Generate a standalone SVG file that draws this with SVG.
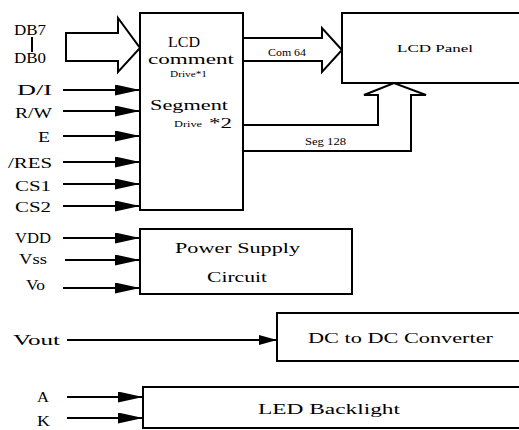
<svg xmlns="http://www.w3.org/2000/svg" width="519" height="430" viewBox="0 0 519 430">
<style>
.box{fill:#fff;stroke:#000;stroke-width:2}
.ln{fill:none;stroke:#000;stroke-width:2}
.hollow{fill:#fff;stroke:#000;stroke-width:2;stroke-linejoin:miter}
text{font-family:"Liberation Serif","Times New Roman",serif;fill:#000}
.l{font-size:14px}
.s{font-size:9px}
.m{font-size:10px}
</style>
<defs>
<marker id="ah" markerUnits="userSpaceOnUse" markerWidth="25" markerHeight="11" viewBox="0 0 25 11" refX="25" refY="5.5" orient="auto">
<path d="M0,0 L25,5.5 L0,11 Z" fill="#000"/>
</marker>
<marker id="ah2" markerUnits="userSpaceOnUse" markerWidth="18" markerHeight="10" viewBox="0 0 18 10" refX="18" refY="5" orient="auto">
<path d="M0,0 L18,5 L0,10 Z" fill="#000"/>
</marker>
</defs>
<rect width="519" height="430" fill="#fff"/>

<g id="connectors">
<path class="hollow" d="M66,33 H118 V18 L140,48 L118,72 V61 H66 Z"/>
<line class="ln" x1="32" y1="37" x2="32" y2="52"/>
<path class="hollow" d="M243,38 H322 V28 L342,50 L322,72 V61 H243"/>
<path class="hollow" d="M243,125 H378 V95 H364 L394,83 L426,95 H411 V151 H243"/>
<line class="ln" x1="63" y1="90" x2="140" y2="90" marker-end="url(#ah)"/>
<line class="ln" x1="63" y1="111" x2="140" y2="111" marker-end="url(#ah)"/>
<line class="ln" x1="63" y1="136" x2="140" y2="136" marker-end="url(#ah)"/>
<line class="ln" x1="63" y1="162" x2="140" y2="162" marker-end="url(#ah)"/>
<line class="ln" x1="63" y1="184" x2="140" y2="184" marker-end="url(#ah)"/>
<line class="ln" x1="63" y1="206" x2="140" y2="206" marker-end="url(#ah)"/>
<line class="ln" x1="63" y1="238" x2="140" y2="238" marker-end="url(#ah)"/>
<line class="ln" x1="65" y1="260" x2="140" y2="260" marker-end="url(#ah)"/>
<line class="ln" x1="63" y1="288" x2="140" y2="288" marker-end="url(#ah)"/>
<line class="ln" x1="67" y1="340" x2="277" y2="340" marker-end="url(#ah2)"/>
<line class="ln" x1="67" y1="397" x2="143" y2="397" marker-end="url(#ah)"/>
<line class="ln" x1="67" y1="418" x2="143" y2="418" marker-end="url(#ah)"/>
<text class="m" x="268" y="56" textLength="38" lengthAdjust="spacingAndGlyphs">Com 64</text>
<text class="m" x="305" y="145" textLength="41" lengthAdjust="spacingAndGlyphs">Seg 128</text>
</g>

<g id="inputs">
<text class="l" x="14" y="35" textLength="32" lengthAdjust="spacingAndGlyphs">DB7</text>
<text class="l" x="14" y="63" textLength="32" lengthAdjust="spacingAndGlyphs">DB0</text>
<text class="l" x="17" y="95" textLength="35" lengthAdjust="spacingAndGlyphs">D/I</text>
<text class="l" x="15" y="118" textLength="37" lengthAdjust="spacingAndGlyphs">R/W</text>
<text class="l" x="38" y="142" textLength="12" lengthAdjust="spacingAndGlyphs">E</text>
<text class="l" x="8" y="168" textLength="44" lengthAdjust="spacingAndGlyphs">/RES</text>
<text class="l" x="15" y="191" textLength="36" lengthAdjust="spacingAndGlyphs">CS1</text>
<text class="l" x="15" y="212" textLength="36" lengthAdjust="spacingAndGlyphs">CS2</text>
<text class="l" x="15" y="243" textLength="36" lengthAdjust="spacingAndGlyphs">VDD</text>
<text class="l" x="19" y="264" textLength="28" lengthAdjust="spacingAndGlyphs">Vss</text>
<text class="l" x="26" y="290" textLength="19" lengthAdjust="spacingAndGlyphs">Vo</text>
<text class="l" x="13" y="345" textLength="47" lengthAdjust="spacingAndGlyphs">Vout</text>
<text class="l" x="37" y="402" textLength="12" lengthAdjust="spacingAndGlyphs">A</text>
<text class="l" x="37" y="426" textLength="13" lengthAdjust="spacingAndGlyphs">K</text>
</g>

<g id="controller">
<rect class="box" x="140" y="13" width="103" height="197"/>
<text style="font-size:15px" x="168" y="47" textLength="32" lengthAdjust="spacingAndGlyphs">LCD</text>
<text style="font-size:15px" x="148" y="64" textLength="86" lengthAdjust="spacingAndGlyphs">comment</text>
<text class="s" x="170" y="77" textLength="37" lengthAdjust="spacingAndGlyphs">Drive*1</text>
<text style="font-size:15px" x="150" y="110" textLength="78" lengthAdjust="spacingAndGlyphs">Segment</text>
<text class="s" x="174" y="127" textLength="28" lengthAdjust="spacingAndGlyphs">Drive</text>
<text class="l" x="209" y="128" textLength="23" lengthAdjust="spacingAndGlyphs">*2</text>
</g>

<g id="lcd-panel">
<rect class="box" x="342" y="13" width="182" height="70"/>
<text style="font-size:11px" x="397" y="52" textLength="76" lengthAdjust="spacingAndGlyphs">LCD Panel</text>
</g>

<g id="power-supply">
<rect class="box" x="140" y="229" width="212" height="65"/>
<text class="l" x="175" y="253" textLength="125" lengthAdjust="spacingAndGlyphs">Power Supply</text>
<text class="l" x="207" y="282" textLength="60" lengthAdjust="spacingAndGlyphs">Circuit</text>
</g>

<g id="dc-dc">
<rect class="box" x="277" y="313" width="247" height="48"/>
<text class="l" x="308" y="343" textLength="185" lengthAdjust="spacingAndGlyphs">DC to DC Converter</text>
</g>

<g id="led-backlight">
<rect class="box" x="143" y="387" width="381" height="41"/>
<text class="l" x="258" y="414" textLength="142" lengthAdjust="spacingAndGlyphs">LED Backlight</text>
</g>
</svg>
